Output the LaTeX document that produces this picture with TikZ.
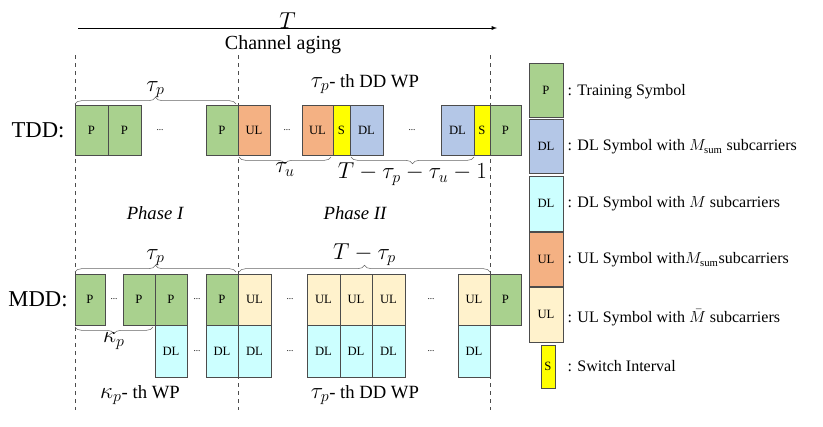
\documentclass[tikz,border=0pt]{standalone}
\usepackage{fontspec}
\setmainfont{Liberation Serif}
\usetikzlibrary{decorations.pathreplacing}
\definecolor{pgreen}{RGB}{169,209,142}
\definecolor{dlblue}{RGB}{180,199,231}
\definecolor{dlcyan}{RGB}{204,255,255}
\definecolor{ulorange}{RGB}{244,177,131}
\definecolor{ulcream}{RGB}{255,242,204}
\definecolor{swyellow}{RGB}{255,255,0}
\tikzset{
  slot/.style={draw=black!70, font=\fontsize{9.5}{9.5}\selectfont},
  brc/.style={decorate, decoration={brace, amplitude=5pt}, draw=black!60},
  lbl/.style={font=\fontsize{18}{18}\selectfont},
  leg/.style={anchor=west, font=\fontsize{12}{12}\selectfont},
}
% slot: name, x1, x2, y1, y2, colour, text
\newcommand{\slot}[7]{\draw[slot, fill=#6] (#2,#4) rectangle (#3,#5) node[midway] (#1) {#7};}
\begin{document}
\begin{tikzpicture}[x=0.75pt, y=-0.75pt, >=latex]
\useasboundingbox (0,0) rectangle (823,426);
% time axis
\coordinate (t0) at (78,28);
\coordinate (t1) at (497,28);
\draw[->] (t0) -- (t1) node[midway, above=-4pt, lbl] {$T$};
\node[font=\fontsize{15}{15}\selectfont] (aging) at (283,45) {Channel aging};
\foreach \x in {75,238,490} \draw[dashed, black!70] (\x,55) -- (\x,410);
% TDD
\node[font=\fontsize{17}{17}\selectfont] (tdd) at (38,130) {TDD:};
\slot{a1}{75}{108}{105}{155}{pgreen}{P}
\slot{a2}{108}{141}{105}{155}{pgreen}{P}
\node (ad1) at (160,130) {\scriptsize ...};
\slot{a3}{206}{238}{105}{155}{pgreen}{P}
\slot{a4}{238}{270}{105}{155}{ulorange}{UL}
\node (ad2) at (287,130) {\scriptsize ...};
\slot{a5}{302}{333}{105}{155}{ulorange}{UL}
\slot{a6}{333}{350}{105}{155}{swyellow}{S}
\slot{a7}{350}{383}{105}{155}{dlblue}{DL}
\node (ad3) at (412,130) {\scriptsize ...};
\slot{a8}{441}{474}{105}{155}{dlblue}{DL}
\slot{a9}{474}{490}{105}{155}{swyellow}{S}
\slot{a10}{490}{521}{105}{155}{pgreen}{P}
\draw[brc] (75,104) -- (236,104) node[midway, above=1pt, lbl] {$\tau_p$};
\node[lbl] (wp1) at (365,84) {$\tau_p$\fontsize{14}{14}\selectfont - th DD WP};
\draw[brc] (331,157) -- (239,157) node[midway, below=1pt, lbl] {$\tau_u$};
\draw[brc] (474,157) -- (351,157) node[midway, below=1pt, lbl] {$T-\tau_p-\tau_u-1$};
\node[font=\itshape\fontsize{14}{14}\selectfont] (ph1) at (155,213) {Phase I};
\node[font=\itshape\fontsize{14}{14}\selectfont] (ph2) at (355,213) {Phase II};
% MDD
\node[font=\fontsize{17}{17}\selectfont] (mdd) at (38,299) {MDD:};
\slot{b1}{75}{105}{274}{325}{pgreen}{P}
\node (bd1) at (114,299) {\scriptsize ...};
\slot{b2}{123}{155}{274}{325}{pgreen}{P}
\slot{b3}{155}{187}{274}{325}{pgreen}{P}
\node (bd2) at (197,299) {\scriptsize ...};
\slot{b4}{206}{238}{274}{325}{pgreen}{P}
\slot{b5}{238}{271}{274}{325}{ulcream}{UL}
\node (bd3) at (290,299) {\scriptsize ...};
\slot{b6}{307}{340}{274}{325}{ulcream}{UL}
\slot{b7}{340}{372}{274}{325}{ulcream}{UL}
\slot{b8}{372}{405}{274}{325}{ulcream}{UL}
\node (bd4) at (431,299) {\scriptsize ...};
\slot{b9}{458}{490}{274}{325}{ulcream}{UL}
\slot{b10}{490}{521}{274}{325}{pgreen}{P}
\slot{c1}{155}{187}{325}{377}{dlcyan}{DL}
\node (cd1) at (197,351) {\scriptsize ...};
\slot{c2}{206}{238}{325}{377}{dlcyan}{DL}
\slot{c3}{238}{271}{325}{377}{dlcyan}{DL}
\node (cd2) at (290,351) {\scriptsize ...};
\slot{c4}{307}{340}{325}{377}{dlcyan}{DL}
\slot{c5}{340}{372}{325}{377}{dlcyan}{DL}
\slot{c6}{372}{405}{325}{377}{dlcyan}{DL}
\node (cd3) at (431,351) {\scriptsize ...};
\slot{c7}{458}{490}{325}{377}{dlcyan}{DL}
\draw[brc] (75,272) -- (236,272) node[midway, above=1pt, lbl] {$\tau_p$};
\draw[brc] (239,272) -- (490,272) node[midway, above=1pt, lbl] {$T-\tau_p$};
\draw[brc] (153,327) -- (75,327) node[midway, below=1pt, lbl] {$\kappa_p$};
\node[lbl] (wp2) at (140,395) {$\kappa_p$\fontsize{14}{14}\selectfont - th WP};
\node[lbl] (wp3) at (365,395) {$\tau_p$\fontsize{14}{14}\selectfont - th DD WP};
% legend
\slot{l1}{529}{563}{63}{117}{pgreen}{P}
\slot{l2}{529}{563}{119}{173}{dlblue}{DL}
\slot{l3}{529}{563}{176}{231}{dlcyan}{DL}
\slot{l4}{529}{563}{232}{286}{ulorange}{UL}
\slot{l5}{529}{563}{287}{342}{ulcream}{UL}
\slot{l6}{541}{555}{345}{388}{swyellow}{S}
\node[leg] at (563,92) {: Training Symbol};
\node[leg] at (563,147) {: DL Symbol with $M_{\mathrm{sum}}$ subcarriers};
\node[leg] at (563,204) {: DL Symbol with $M$ subcarriers};
\node[leg] at (563,260) {: UL Symbol with$M_{\mathrm{sum}}$subcarriers};
\node[leg] at (563,318) {: UL Symbol with $\bar{M}$ subcarriers};
\node[leg] at (563,366) {: Switch Interval};
\end{tikzpicture}
\end{document}
